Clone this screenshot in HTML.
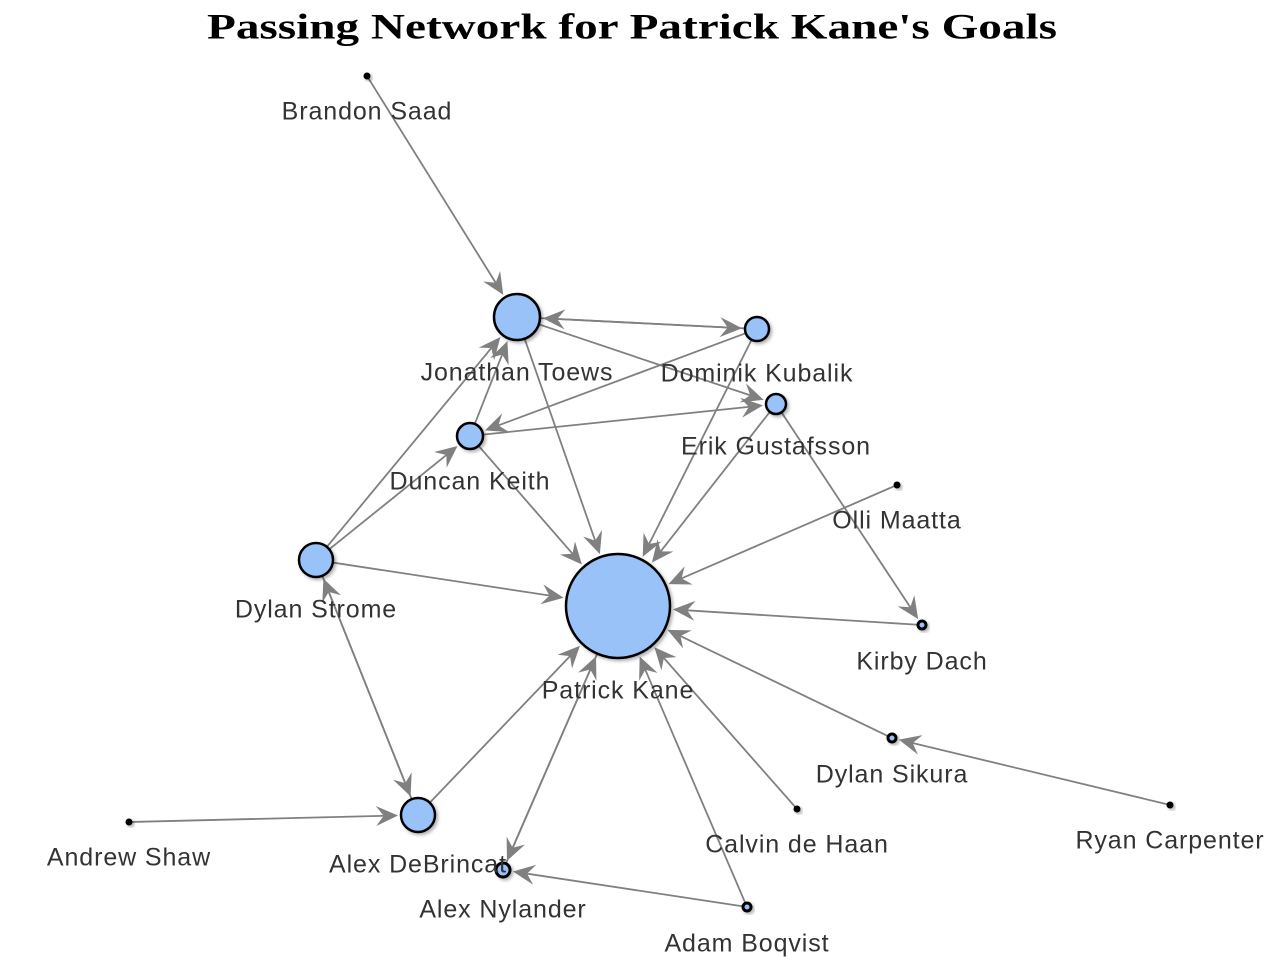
<!DOCTYPE html>
<html><head><meta charset="utf-8"><style>
body{margin:0;background:#fff;}
svg{display:block;}
.lbl{font-family:"Liberation Sans",sans-serif;font-size:25px;letter-spacing:0.9px;fill:#333;text-anchor:middle;dominant-baseline:middle;}
</style></head><body>
<svg id="chart" width="1286" height="968">
<defs>
<filter id="sh" x="-50%" y="-50%" width="200%" height="200%"><feDropShadow dx="2" dy="2" stdDeviation="1.5" flood-color="#000" flood-opacity="0.3"/></filter>
</defs>
<text x="632" y="30" text-anchor="middle" dominant-baseline="middle" font-family="Liberation Serif,serif" font-weight="bold" font-size="36" textLength="850" lengthAdjust="spacingAndGlyphs" fill="#000">Passing Network for Patrick Kane's Goals</text>
<g id="edges"></g><g id="nodes"></g><g id="labels"></g>
</svg>
<script>
const players=["Patrick Kane","Jonathan Toews","Dominik Kubalik","Erik Gustafsson","Duncan Keith","Dylan Strome","Alex DeBrincat","Alex Nylander","Adam Boqvist","Calvin de Haan","Dylan Sikura","Ryan Carpenter","Kirby Dach","Olli Maatta","Brandon Saad","Andrew Shaw"];
const posX=[618,517,757,776,470,316,418,503,747,797,892,1170,922,897,367,129];
const posY=[606,317,329,404,436,560,815,870,907,809,738,805,625,485,76,822];
const radius=[52,23,12,10,13,17,17,7,4,3,4,3,4,3,3,3];
const edgeFrom=["Brandon Saad","Jonathan Toews","Dominik Kubalik","Jonathan Toews","Jonathan Toews","Dominik Kubalik","Dominik Kubalik","Duncan Keith","Duncan Keith","Duncan Keith","Erik Gustafsson","Erik Gustafsson","Dylan Strome","Dylan Strome","Dylan Strome","Dylan Strome","Alex DeBrincat","Alex DeBrincat","Andrew Shaw","Alex Nylander","Patrick Kane","Adam Boqvist","Adam Boqvist","Calvin de Haan","Dylan Sikura","Ryan Carpenter","Olli Maatta","Kirby Dach"];
const edgeTo=["Jonathan Toews","Dominik Kubalik","Jonathan Toews","Erik Gustafsson","Patrick Kane","Patrick Kane","Duncan Keith","Erik Gustafsson","Jonathan Toews","Patrick Kane","Patrick Kane","Kirby Dach","Jonathan Toews","Duncan Keith","Patrick Kane","Alex DeBrincat","Dylan Strome","Patrick Kane","Alex DeBrincat","Patrick Kane","Alex Nylander","Alex Nylander","Patrick Kane","Patrick Kane","Patrick Kane","Dylan Sikura","Patrick Kane","Patrick Kane"];
const NS="http://www.w3.org/2000/svg";
const idx=n=>players.indexOf(n);
const eg=document.getElementById('edges'),ng=document.getElementById('nodes'),lg=document.getElementById('labels');
edgeFrom.forEach((f,k)=>{
  const a=idx(f),b=idx(edgeTo[k]);
  const x1=posX[a],y1=posY[a],x2=posX[b],y2=posY[b];
  const dx=x2-x1,dy=y2-y1,L=Math.hypot(dx,dy),ux=dx/L,uy=dy/L;
  const sx=x1+ux*radius[a],sy=y1+uy*radius[a];
  const tx=x2-ux*(radius[b]+3),ty=y2-uy*(radius[b]+3);
  const g=document.createElementNS(NS,'g');
  
  
  const ln=document.createElementNS(NS,'line');
  ln.setAttribute('x1',sx);ln.setAttribute('y1',sy);ln.setAttribute('x2',tx-ux*12);ln.setAttribute('y2',ty-uy*12);
  ln.setAttribute('stroke','#808080');ln.setAttribute('stroke-width','1.8');
  g.appendChild(ln);
  const hl=22,hw=10,bx=tx-ux*hl,by=ty-uy*hl,nx=-uy,ny=ux;
  const p=document.createElementNS(NS,'polygon');
  p.setAttribute('points',`${tx},${ty} ${bx+nx*hw},${by+ny*hw} ${tx-ux*hl*0.65},${ty-uy*hl*0.65} ${bx-nx*hw},${by-ny*hw}`);
  p.setAttribute('fill','#808080');
  g.appendChild(p);
  eg.appendChild(g);
});
players.forEach((n,i)=>{
  const c=document.createElementNS(NS,'circle');
  c.setAttribute('cx',posX[i]);c.setAttribute('cy',posY[i]);c.setAttribute('r',radius[i]);
  c.setAttribute('fill',radius[i]<=3?'#000':'#99c2f8');c.setAttribute('stroke','#000');
  c.setAttribute('stroke-width',radius[i]<=3?'1':(radius[i]<=7?'3':'2.5'));c.setAttribute('filter','url(#sh)');
  
  
  ng.appendChild(c);
  const t=document.createElementNS(NS,'text');
  t.setAttribute('x',posX[i]);t.setAttribute('y',posY[i]+radius[i]+34);
  t.setAttribute('class','lbl');t.textContent=n;
  
  
  lg.appendChild(t);
});
</script>
</body></html>
